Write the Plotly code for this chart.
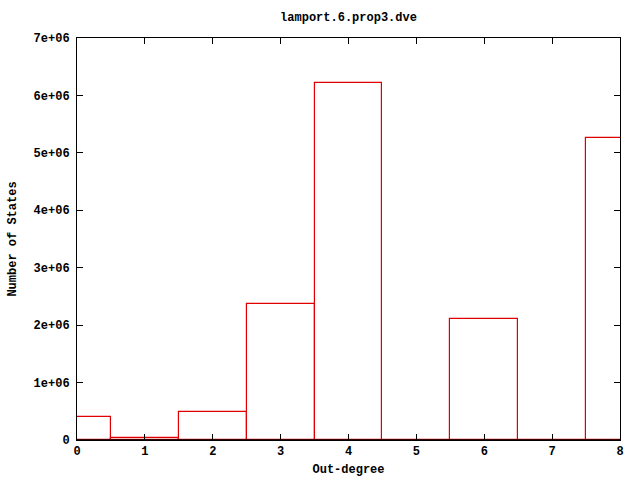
import plotly.graph_objects as go

out_degree = [0, 1, 2, 3, 4, 5, 6, 7, 8]
num_states = [400000, 35000, 485000, 2365000, 6210000, 0, 2100000, 0, 5255000]

y_ticks = [0, 1e6, 2e6, 3e6, 4e6, 5e6, 6e6, 7e6]
y_ticktext = ["0", "1e+06", "2e+06", "3e+06", "4e+06", "5e+06", "6e+06", "7e+06"]
x_ticks = [0, 1, 2, 3, 4, 5, 6, 7, 8]

font = dict(family="Liberation Mono, DejaVu Sans Mono, monospace", size=12, color="black")

fig = go.Figure(go.Bar(
    x=out_degree, y=num_states, width=1,
    marker=dict(color="rgba(0,0,0,0)", line=dict(color="#e00000", width=1.2)),
    hoverinfo="skip",
))

fig.update_layout(
    width=640, height=480,
    margin=dict(l=77, r=20, t=38, b=40),
    paper_bgcolor="white", plot_bgcolor="white",
    font=font,
    showlegend=False,
    bargap=0,
    title=dict(text="<b>lamport.6.prop3.dve</b>", x=(77 + 620) / 2 / 640, xanchor="center",
               y=1 - 17 / 480, yanchor="middle", font=font),
    shapes=[dict(type="line", xref="paper", yref="paper", x0=0, x1=1, y0=0, y1=0,
                 line=dict(color="black", width=1.6), layer="above")],
)
fig.update_xaxes(
    range=[0, 8], tickvals=x_ticks, ticktext=[f"<b>{v}</b>" for v in x_ticks],
    ticks="inside", ticklen=6, tickcolor="black", showline=True, linecolor="black",
    linewidth=1, mirror="allticks", showgrid=False, zeroline=False, automargin=False,
    title=dict(text="<b>Out-degree</b>", font=font, standoff=6),
)
fig.update_yaxes(
    range=[0, 7e6], tickvals=y_ticks, ticktext=[f"<b>{t}</b>" for t in y_ticktext],
    ticks="inside", ticklen=6, tickcolor="black", showline=True, linecolor="black",
    linewidth=1, mirror="allticks", showgrid=False, zeroline=False, automargin=False,
    ticklabelstandoff=4,
    title=dict(text="<b>Number of States</b>", font=font, standoff=14),
)

fig.write_html("out.html", config={"displayModeBar": False},
               post_script="document.body.style.margin='0';")
